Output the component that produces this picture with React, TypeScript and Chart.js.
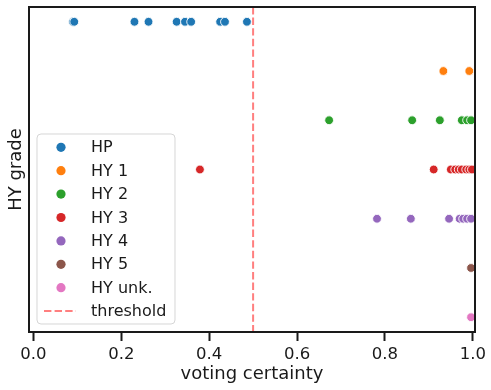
import React, { useEffect, useRef } from 'react';
import { Chart, registerables } from 'chart.js';

Chart.register(...registerables);

// ---- data ----
const categories = ['HP', 'HY 1', 'HY 2', 'HY 3', 'HY 4', 'HY 5', 'HY unk.'];
const hpCertainty = [0.090, 0.093, 0.230, 0.262, 0.326, 0.345, 0.359, 0.425, 0.436, 0.486];
const hy1Certainty = [0.933, 0.992];
const hy2Certainty = [0.673, 0.862, 0.925, 0.975, 0.987, 0.996];
const hy3Certainty = [0.379, 0.911, 0.950, 0.960, 0.968, 0.975, 0.985, 0.992, 0.998];
const hy4Certainty = [0.782, 0.859, 0.946, 0.970, 0.978, 0.987, 0.996];
const hy5Certainty = [0.996];
const hyUnkCertainty = [0.996];
const seriesValues = [hpCertainty, hy1Certainty, hy2Certainty, hy3Certainty, hy4Certainty, hy5Certainty, hyUnkCertainty];
const xTickValues = [0, 0.2, 0.4, 0.6, 0.8, 1.0];
const threshold = 0.5;
const thresholdLabel = 'threshold';
const xTitle = 'voting certainty';
const yTitle = 'HY grade';

const colors = ['#1f77b4', '#ff7f0e', '#2ca02c', '#d62728', '#9467bd', '#8c564b', '#e377c2'];
const ink = '#1a1a1a';
const FONT = "'DejaVu Sans', sans-serif";

const spinePlugin = {
  id: 'spines',
  afterDatasetsDraw(chart: any) {
    const { ctx, chartArea: a } = chart;
    ctx.save();
    ctx.strokeStyle = ink;
    ctx.lineWidth = 2;
    ctx.strokeRect(a.left, a.top, a.right - a.left, a.bottom - a.top);
    ctx.restore();
  },
};

const legendPlugin = {
  id: 'mplLegend',
  afterDraw(chart: any) {
    const { ctx, chartArea: a } = chart;
    const w = 138;
    const h = 190;
    const bx = a.left + 8;
    const by = a.bottom - 8 - h;
    ctx.save();
    ctx.beginPath();
    const r = 4;
    ctx.moveTo(bx + r, by);
    ctx.lineTo(bx + w - r, by);
    ctx.quadraticCurveTo(bx + w, by, bx + w, by + r);
    ctx.lineTo(bx + w, by + h - r);
    ctx.quadraticCurveTo(bx + w, by + h, bx + w - r, by + h);
    ctx.lineTo(bx + r, by + h);
    ctx.quadraticCurveTo(bx, by + h, bx, by + h - r);
    ctx.lineTo(bx, by + r);
    ctx.quadraticCurveTo(bx, by, bx + r, by);
    ctx.closePath();
    ctx.fillStyle = 'rgba(255,255,255,0.8)';
    ctx.fill();
    ctx.strokeStyle = 'rgba(204,204,204,0.8)';
    ctx.lineWidth = 1;
    ctx.stroke();

    ctx.font = `16px ${FONT}`;
    ctx.textBaseline = 'middle';
    ctx.textAlign = 'left';
    chart.data.datasets.forEach((ds: any, i: number) => {
      const y = by + 13.3 + i * 23.4;
      if (ds.showLine) {
        ctx.beginPath();
        ctx.setLineDash([7.4, 3.2]);
        ctx.strokeStyle = ds.borderColor;
        ctx.lineWidth = 2;
        ctx.moveTo(bx + 7, y);
        ctx.lineTo(bx + 39, y);
        ctx.stroke();
        ctx.setLineDash([]);
      } else {
        ctx.beginPath();
        ctx.arc(bx + 24, y, 4.6, 0, Math.PI * 2);
        ctx.fillStyle = ds.backgroundColor;
        ctx.fill();
      }
      ctx.fillStyle = ink;
      ctx.fillText(ds.label, bx + 54, y + 1);
    });
    ctx.restore();
  },
};

export default function App() {
  const ref = useRef<HTMLCanvasElement>(null);

  useEffect(() => {
    if (!ref.current) return;
    const datasets: any[] = seriesValues.map((vals, i) => ({
      type: 'scatter',
      label: categories[i],
      data: vals.map((v) => ({ x: v, y: i })),
      backgroundColor: colors[i],
      borderColor: '#ffffff',
      borderWidth: 0.9,
      pointRadius: 4.4,
      pointHoverRadius: 4.4,
      clip: 0,
    }));
    datasets.push({
      type: 'line',
      label: thresholdLabel,
      data: [
        { x: threshold, y: -0.3 },
        { x: threshold, y: categories.length - 1 + 0.3 },
      ],
      showLine: true,
      borderColor: 'rgba(255,0,0,0.5)',
      backgroundColor: 'rgba(255,0,0,0.5)',
      borderWidth: 2,
      borderDash: [7.4, 3.2],
      pointRadius: 0,
      clip: 0,
    });

    const chart = new Chart(ref.current, {
      type: 'scatter',
      data: { datasets },
      options: {
        animation: false,
        responsive: false,
        devicePixelRatio: 1,
        layout: { padding: { top: 7, right: 16, left: 0, bottom: 0 } },
        plugins: {
          legend: { display: false },
          tooltip: { enabled: false },
        },
        scales: {
          x: {
            type: 'linear',
            min: -0.01,
            max: 1.005,
            afterBuildTicks: (scale: any) => {
              scale.ticks = xTickValues.map((v) => ({ value: v }));
            },
            afterFit: (scale: any) => {
              scale.height = 58;
              scale.paddingLeft = 0;
              scale.paddingRight = 0;
            },
            ticks: {
              callback: (v: any) => Number(v).toFixed(1),
              font: { family: FONT, size: 16.5 },
              color: ink,
              padding: 4,
              maxRotation: 0,
              autoSkip: false,
            },
            grid: {
              display: true,
              drawOnChartArea: false,
              drawTicks: true,
              tickLength: 9,
              tickWidth: 2,
              tickColor: ink,
            },
            border: { display: false },
            title: {
              display: true,
              text: xTitle,
              font: { family: FONT, size: 18 },
              color: ink,
              padding: { top: 0, bottom: 5 },
            },
          },
          y: {
            type: 'linear',
            min: -0.3,
            max: categories.length - 1 + 0.3,
            reverse: true,
            afterFit: (scale: any) => {
              scale.width = 29;
            },
            ticks: { display: false },
            grid: { display: false },
            border: { display: false },
            title: {
              display: true,
              text: yTitle,
              font: { family: FONT, size: 18 },
              color: ink,
              padding: { top: 5.5, bottom: 0 },
            },
          },
        },
      },
      plugins: [spinePlugin, legendPlugin],
    } as any);

    return () => chart.destroy();
  }, []);

  return (
    <div style={{ position: 'absolute', left: 0, top: 0, width: 491, height: 390, background: '#fff' }}>
      <canvas ref={ref} width={491} height={390} style={{ display: 'block' }} />
    </div>
  );
}
